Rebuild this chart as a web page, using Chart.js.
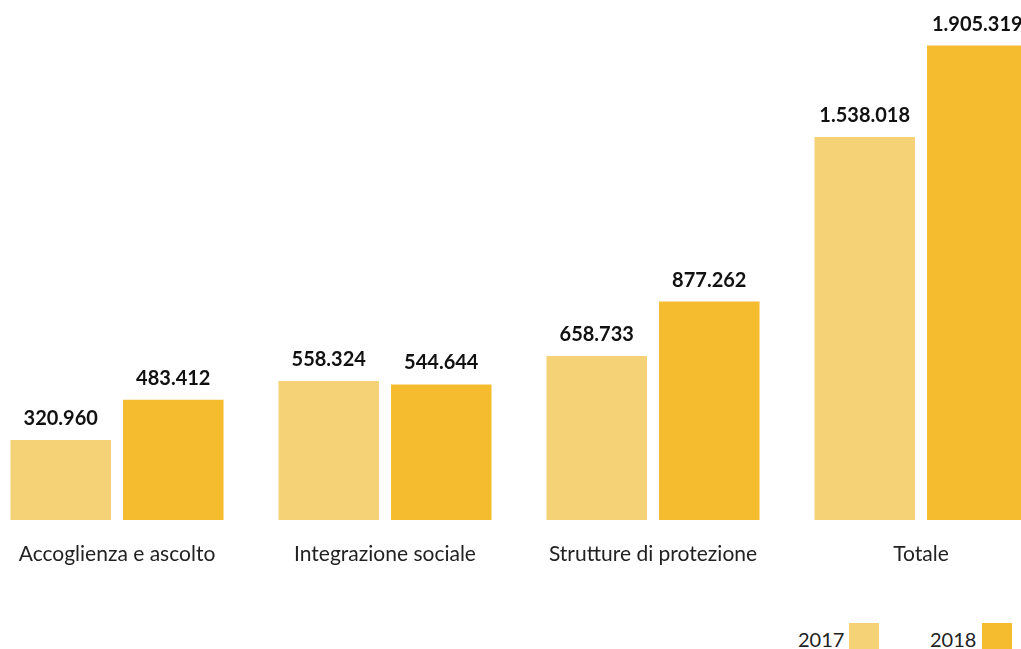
<!DOCTYPE html>
<html>
<head>
<meta charset="utf-8">
<script src="https://cdn.jsdelivr.net/npm/chart.js@4/dist/chart.umd.min.js"></script>
<style>
  html, body { margin: 0; padding: 0; background: #fff; overflow: hidden; }
  body { width: 1021px; height: 649px; position: relative; }
  #wrap { position: absolute; left: -17px; top: 0; width: 1090px; height: 600px; }
  .leg-text { position: absolute; font-family: Lato, "Open Sans", sans-serif; font-size: 20px; color: #222; line-height: 20px; }
  .leg-box { position: absolute; width: 30px; height: 28px; }
</style>
</head>
<body>
<div id="wrap"><canvas id="chart"></canvas></div>

<div class="leg-text" style="left:798px; top:629px;">2017</div>
<div class="leg-box" style="left:849px; top:623px; background:#f6d277;"></div>
<div class="leg-text" style="left:930px; top:629px;">2018</div>
<div class="leg-box" style="left:982px; top:623px; background:#f5bc2f;"></div>

<script>
var categorie = ['Accoglienza e ascolto', 'Integrazione sociale', 'Strutture di protezione', 'Totale'];
var anni = ['2017', '2018'];
var valori2017 = [320960, 558324, 658733, 1538018];
var valori2018 = [483412, 544644, 877262, 1905319];
var colori = ['#f6d277', '#f5bc2f'];

function formatta(n) {
    return String(n).replace(/\B(?=(\d{3})+(?!\d))/g, '.');
}

// scrive il valore sopra ogni barra
const etichette = {
    id: 'etichette',
    afterDatasetsDraw(chart) {
        const ctx = chart.ctx;
        ctx.save();
        ctx.font = 'bold 20px Lato, "Open Sans", sans-serif';
        ctx.fillStyle = '#111';
        ctx.textAlign = 'center';
        ctx.textBaseline = 'alphabetic';
        chart.data.datasets.forEach(function (ds, i) {
            chart.getDatasetMeta(i).data.forEach(function (bar, j) {
                ctx.fillText(formatta(ds.data[j]), bar.x, bar.y - 15);
            });
        });
        ctx.restore();
    }
};

const ctx = document.getElementById('chart');

new Chart(ctx, {
    type: 'bar',
    data: {
        labels: categorie,
        datasets: [{
            label: anni[0],
            data: valori2017,
            backgroundColor: colori[0]
        },
        {
            label: anni[1],
            data: valori2018,
            backgroundColor: colori[1]
        }]
    },
    options: {
        responsive: true,
        maintainAspectRatio: false,
        animation: false,
        categoryPercentage: 0.84,
        barPercentage: 0.893,
        layout: {
            padding: { left: 0, right: 18, top: 22, bottom: 0 }
        },
        plugins: {
            legend: { display: false },
            tooltip: { enabled: false }
        },
        scales: {
            x: {
                grid: { display: false },
                border: { display: false },
                ticks: {
                    color: '#222',
                    padding: 14,
                    font: { family: 'Lato, "Open Sans", sans-serif', size: 21 }
                },
                afterFit: function (s) { s.height = 80; }
            },
            y: {
                display: false,
                min: 0,
                max: 2000000
            }
        }
    },
    plugins: [etichette]
});
</script>
</body>
</html>
